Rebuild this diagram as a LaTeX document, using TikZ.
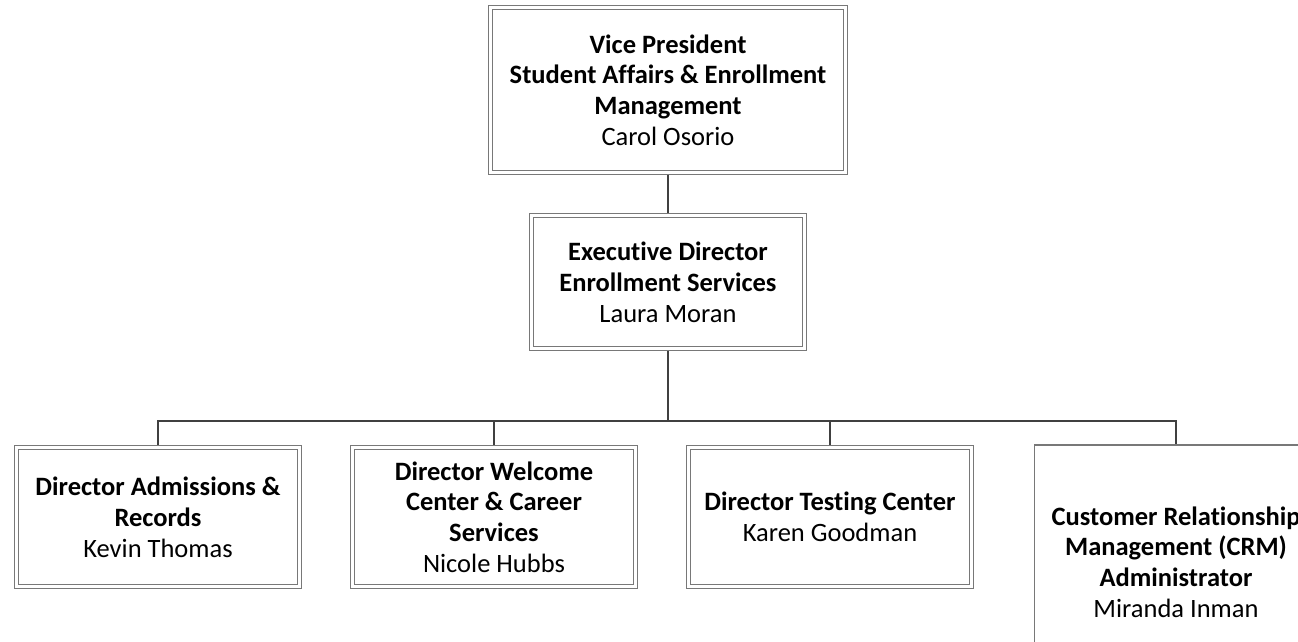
\documentclass[tikz,border=0pt]{standalone}
\usepackage{fontspec}
\setmainfont[Ligatures=NoCommon]{Carlito}
\usetikzlibrary{positioning}
\definecolor{boxgray}{RGB}{120,120,120}
\definecolor{linegray}{RGB}{64,64,64}

\begin{document}
\begin{tikzpicture}[x=1pt,y=-1pt,
	box/.style={draw=boxgray,double,double distance=3.5pt,line width=1.2pt,fill=white,
		align=center,inner sep=0pt,outer sep=2.35pt,font=\fontsize{26.5}{30.8}\selectfont},
	single/.style={draw=boxgray,line width=1.2pt,fill=white,
		align=center,inner sep=0pt,outer sep=0.6pt,font=\fontsize{26.5}{30.8}\selectfont},
	link/.style={draw=linegray,line width=2pt}]
	\useasboundingbox (0,0) rectangle (1298,641);
	% top of the chart
	\node[box,minimum width=355pt,minimum height=165pt] (vp) at (668,90)
		{\textbf{Vice President}\\\textbf{Student Affairs \& Enrollment}\\\textbf{Management}\\Carol Osorio};
	\node[box,minimum width=273pt,minimum height=133pt] (ed) at (668,282)
		{\textbf{Executive Director}\\\textbf{Enrollment Services}\\Laura Moran};
	% directors
	\node[box,minimum width=283pt,minimum height=139pt] (adm) at (158,517)
		{\textbf{Director Admissions \&}\\\textbf{Records}\\Kevin Thomas};
	\node[box,minimum width=283pt,minimum height=139pt] (wel) at (494,517)
		{\textbf{Director Welcome}\\\textbf{Center \& Career}\\\textbf{Services}\\Nicole Hubbs};
	\node[box,minimum width=283pt,minimum height=139pt] (tst) at (830,517)
		{\textbf{Director Testing Center}\\Karen Goodman};
	\node[single,minimum width=283pt,minimum height=234pt] (crm) at (1176,562)
		{\textbf{Customer Relationship}\\\textbf{Management (CRM)}\\\textbf{Administrator}\\Miranda Inman};
	\coordinate (bus) at (668,421);
	\draw[link] (vp) -- (ed);
	\draw[link] (ed) -- (bus);
	\foreach \n in {adm,wel,tst,crm}
		\draw[link] (bus) -| (\n.north);
\end{tikzpicture}
\end{document}
